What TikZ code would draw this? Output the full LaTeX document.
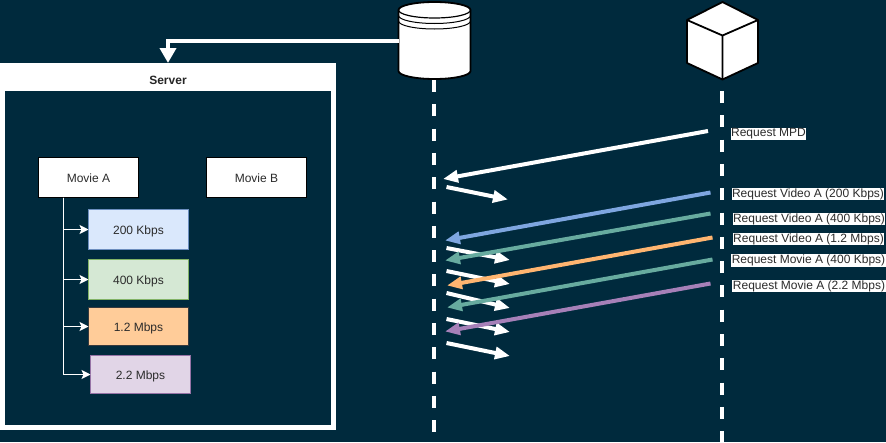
\documentclass[tikz,border=0pt]{standalone}
\usepackage{fontspec}
\setmainfont{Liberation Sans}
\usetikzlibrary{arrows.meta}
\definecolor{bgc}{HTML}{002A3D}
\definecolor{txt}{HTML}{2B2B2B}
\definecolor{flowblue}{HTML}{7EA6E0}
\definecolor{flowgreen}{HTML}{67AB9F}
\definecolor{floworange}{HTML}{FFB570}
\definecolor{flowpurple}{HTML}{A680B8}
\tikzset{
  box/.style={draw=black,line width=1pt,fill=white,inner sep=0pt,outer sep=0pt,minimum width=100pt,text=txt,font=\fontsize{12}{14}\selectfont,text depth=0pt,text height=10pt},
  req/.style={fill=white,text=txt,inner sep=0.5pt,font=\fontsize{12}{13.5}\selectfont,yshift=-1pt},
  anchorbox/.style={inner sep=0pt,outer sep=0pt},
  flow/.style={line width=4pt,-{Triangle[length=15pt,width=12pt]}},
  branch/.style={white,line width=1pt,-{Stealth[length=9pt,width=9pt,inset=2pt]}},
  life/.style={white,line width=4pt,dash pattern=on 12pt off 12.3pt},
  solid shape/.style={fill=white,draw=black,line width=1.8pt,line join=round}
}
\begin{document}
\begin{tikzpicture}[x=1pt,y=-1pt]
\path[use as bounding box,fill=bgc] (0,0) rectangle (886,442);
% server
\node[anchorbox,fill=white,minimum width=336pt,minimum height=367pt] (server) at (168,246.5) {};
\node[anchorbox,fill=bgc,minimum width=326pt,minimum height=334pt] (inner) at (168,258) {};
\node[anchorbox,font=\fontsize{12}{14}\selectfont\bfseries,text=black!85,yshift=-0.5pt] (servertitle) at (168,79.5) {Server};
% movie boxes
\node[box,minimum height=40pt] (ma) at (88.5,177.5) {Movie A};
\node[box,minimum height=40pt] (mb) at (256.5,177.5) {Movie B};
\node[box,minimum height=40pt,fill={rgb,255:red,218;green,232;blue,252},draw={rgb,255:red,108;green,142;blue,191}] (r1) at (138.5,229.5) {200 Kbps};
\node[box,minimum height=40pt,fill={rgb,255:red,213;green,232;blue,212},draw={rgb,255:red,130;green,179;blue,102}] (r2) at (138.5,279.5) {400 Kbps};
\node[box,minimum height=38pt,fill={rgb,255:red,255;green,204;blue,153},draw={rgb,255:red,54;green,57;blue,61}] (r3) at (138.5,326.5) {1.2 Mbps};
\node[box,minimum height=38pt,fill={rgb,255:red,225;green,213;blue,231},draw={rgb,255:red,150;green,115;blue,166}] (r4) at (140.5,374.5) {2.2 Mbps};
\coordinate (trunk) at ([xshift=-25pt]ma.south);
\draw[branch] (trunk) |- (r1);
\draw[branch] (trunk) |- (r2);
\draw[branch] (trunk) |- (r3);
\draw[branch] (trunk) |- (r4);
% lifelines
\node[anchorbox,minimum width=72pt,minimum height=77pt] (db) at (434.5,40.5) {};
\node[anchorbox,minimum width=71pt,minimum height=77pt] (cube) at (722.5,40.5) {};
\coordinate (dbstart) at (434,80);
\coordinate (dbend) at (434,442);
\coordinate (cubestart) at (721.5,91);
\coordinate (cubeend) at (721.5,442);
\draw[life] (dbstart) -- (dbend);
\draw[life] (cubestart) -- (cubeend);
% database
\draw[solid shape] (398.5,10) -- (398.5,71) arc[start angle=180,end angle=0,x radius=36,y radius=8] -- (470.5,10) arc[start angle=0,end angle=-180,x radius=36,y radius=8] -- cycle;
\draw[black,line width=1.2pt] (398.5,10) arc[start angle=180,end angle=0,x radius=36,y radius=8];
\draw[black,line width=1pt] (398.5,15.5) arc[start angle=180,end angle=0,x radius=36,y radius=8];
\draw[black,line width=1pt] (398.5,21) arc[start angle=180,end angle=0,x radius=36,y radius=8];
% cube
\draw[solid shape] (722.5,2) -- (758,20) -- (758,63) -- (722.5,79.5) -- (687,63) -- (687,20) -- cycle;
\draw[black,line width=1.8pt,line join=round] (687,20) -- (722.5,35.5) -- (758,20) (722.5,35.5) -- (722.5,79.5);
% server link
\draw[white,line width=4pt,-{Stealth[length=15pt,width=16pt,inset=0pt]}] (db.west) -| (server.north);
% white responses
\coordinate (a0) at (446.5,187); \coordinate (b0) at (508,199.5);
\coordinate (a1) at (446.5,248); \coordinate (b1) at (510,260);
\coordinate (a2) at (446.5,271); \coordinate (b2) at (510,284);
\coordinate (a3) at (446.5,293); \coordinate (b3) at (510,308);
\coordinate (a4) at (446.5,319); \coordinate (b4) at (510,332);
\coordinate (a5) at (446.5,343); \coordinate (b5) at (510,356);
\draw[flow,white] (a0) -- (b0);
\draw[flow,white] (a1) -- (b1);
\draw[flow,white] (a2) -- (b2);
\draw[flow,white] (a3) -- (b3);
\draw[flow,white] (a4) -- (b4);
\draw[flow,white] (a5) -- (b5);
% requests
\coordinate (s0) at (708,131); \coordinate (t0) at (443,179);
\coordinate (s1) at (710.5,192.5); \coordinate (t1) at (445,240.5);
\coordinate (s2) at (710.5,213.5); \coordinate (t2) at (445,260.5);
\coordinate (s3) at (712.5,237.5); \coordinate (t3) at (447,285.5);
\coordinate (s4) at (712.5,259.5); \coordinate (t4) at (447,307.5);
\coordinate (s5) at (710.5,283.5); \coordinate (t5) at (445,331.5);
\draw[flow,white] (s0) -- (t0);
\draw[flow,flowblue] (s1) -- (t1);
\draw[flow,flowgreen] (s2) -- (t2);
\draw[flow,floworange] (s3) -- (t3);
\draw[flow,flowgreen] (s4) -- (t4);
\draw[flow,flowpurple] (s5) -- (t5);
% labels
\node[req] (l0) at (768.5,133) {Request MPD};
\node[req] (l1) at (808,193) {Request Video A (200 Kbps)};
\node[req] (l2) at (809,218) {Request Video A (400 Kbps)};
\node[req] (l3) at (808.5,238) {Request Video A (1.2 Mbps)};
\node[req] (l4) at (808.5,259.5) {Request Movie A (400 Kbps)};
\node[req] (l5) at (809,285) {Request Movie A (2.2 Mbps)};
\end{tikzpicture}
\end{document}
